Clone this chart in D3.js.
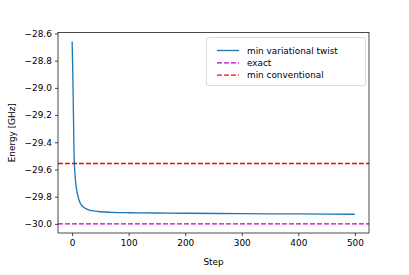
<!DOCTYPE html>
<html><head><meta charset="utf-8">
<script src="https://cdn.jsdelivr.net/npm/d3@7"></script>
<style>body{margin:0;background:#fff}svg{display:block}text{font-family:"DejaVu Sans",sans-serif;fill:#000}</style>
</head><body><div id="c"></div>
<script>
const steps = [0,1,2,3,4,5,6,8,10,13,16,20,25,30,40,50,70,100,150,200,300,400,500];
const twist = [-28.66,-28.86,-29.10,-29.40,-29.56,-29.635,-29.685,-29.75,-29.79,-29.835,-29.858,-29.876,-29.89,-29.898,-29.906,-29.911,-29.915,-29.918,-29.920,-29.922,-29.925,-29.927,-29.929];
const exact = -30.0;
const conventional = -29.556;
const xTicks = [0,100,200,300,400,500];
const yTicks = [-28.6,-28.8,-29.0,-29.2,-29.4,-29.6,-29.8,-30.0];
const legendLabels = ["min variational twist","exact","min conventional"];
const colors = ["#1f77b4","#bf00bf","#ff0000"];

const W=409,H=275, L=58, R=369, T=32.5, B=233;
const svg=d3.select("#c").append("svg").attr("width",W).attr("height",H);
const x=d3.scaleLinear().domain([-25,525]).range([L,R]);
const y=d3.scaleLinear().domain([-30.067,-28.593]).range([B,T]);
const fs=8.9, lw=1.33, dash="4.9,2.1";

const g=svg.append("g");
g.append("path").datum(steps.map((s,i)=>[s,twist[i]]))
 .attr("d",d3.line().x(d=>x(d[0])).y(d=>y(d[1])).curve(d3.curveMonotoneX))
 .attr("fill","none").attr("stroke",colors[0]).attr("stroke-width",lw);
g.append("line").attr("x1",L).attr("x2",R).attr("y1",y(exact)).attr("y2",y(exact))
 .attr("stroke",colors[1]).attr("stroke-width",lw).attr("stroke-dasharray",dash);
g.append("line").attr("x1",L).attr("x2",R).attr("y1",y(conventional)).attr("y2",y(conventional))
 .attr("stroke",colors[2]).attr("stroke-width",lw).attr("stroke-dasharray",dash);

const xa=svg.append("g").attr("transform",`translate(0,${B})`)
 .call(d3.axisBottom(x).tickValues(xTicks).tickSize(3.1).tickPadding(3.1).tickFormat(d3.format("d")));
const ya=svg.append("g").attr("transform",`translate(${L},0)`)
 .call(d3.axisLeft(y).tickValues(yTicks).tickSize(3.1).tickPadding(3.1).tickFormat(d=>d3.format(".1f")(d).replace("-","\u2212")));
[xa,ya].forEach(a=>{a.select(".domain").remove();a.selectAll("text").attr("font-size",fs).attr("font-family","DejaVu Sans");a.selectAll("line").attr("stroke","#000").attr("stroke-width",0.71);});
svg.append("rect").attr("x",L).attr("y",T).attr("width",R-L).attr("height",B-T)
 .attr("fill","none").attr("stroke","#000").attr("stroke-width",0.71);

svg.append("text").attr("x",(L+R)/2).attr("y",265).attr("text-anchor","middle").attr("font-size",fs).text("Step");
svg.append("text").attr("transform",`translate(15,${(T+B)/2}) rotate(-90)`).attr("text-anchor","middle").attr("font-size",fs).text("Energy [GHz]");

const lg=svg.append("g");
lg.append("rect").attr("x",206.5).attr("y",37.5).attr("width",159).attr("height",48).attr("rx",2.5)
 .attr("fill","#fff").attr("fill-opacity",0.8).attr("stroke","#ccc").attr("stroke-width",0.71);
legendLabels.forEach((t,i)=>{
  const yy=50.5+i*12.3;
  lg.append("line").attr("x1",217).attr("x2",239).attr("y1",yy).attr("y2",yy)
   .attr("stroke",colors[i]).attr("stroke-width",lw).attr("stroke-dasharray",i?dash:null);
  lg.append("text").attr("x",247).attr("y",yy).attr("dy","0.35em").attr("font-size",fs).text(t);
});
</script></body></html>
